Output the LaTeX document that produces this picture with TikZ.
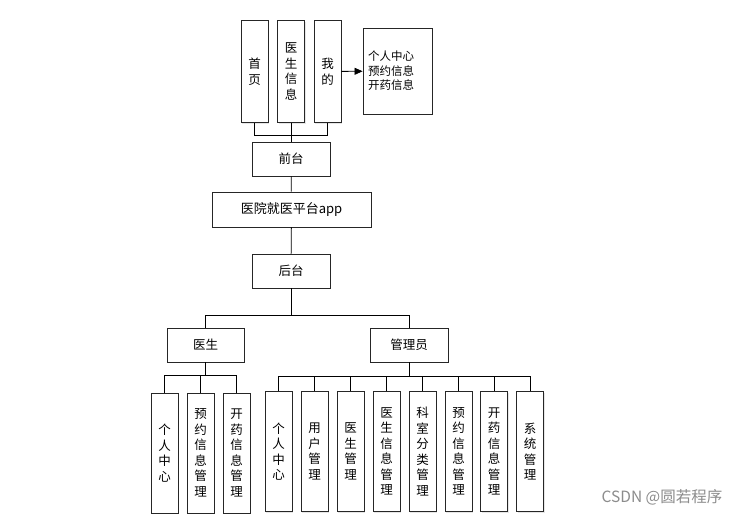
\documentclass[tikz,border=0pt]{standalone}
\usepackage{fontspec}
\newfontfamily\cjk{Noto Sans CJK SC}
\usetikzlibrary{arrows.meta,shadows}
\begin{document}
\begin{tikzpicture}[x=1pt,y=-1pt,
  box/.style={draw=black!85,line width=0.9pt,fill=white,inner sep=0pt,align=center,
    font=\cjk\fontsize{12.5}{15.5}\selectfont,
    drop shadow={shadow xshift=1.2pt,shadow yshift=-1.2pt,opacity=0.2}},
  hbox/.style={box,minimum width=78pt,minimum height=34pt},
  vbox/.style={box,minimum width=27pt,minimum height=120pt},
  tbox/.style={box,minimum width=27pt,minimum height=102pt},
  conn/.style={draw=black,line width=0.8pt}]
\useasboundingbox (0,0) rectangle (746,516);
% top row
\node[tbox] (shouye) at (254.5,71.5) {首\\页};
\node[tbox] (ysxx) at (291,71.5) {医\\生\\信\\息};
\node[tbox] (wode) at (327.5,71.5) {我\\的};
\node[box,minimum width=69pt,minimum height=86pt,text width=59pt,inner xsep=5pt,align=left,
  font=\cjk\fontsize{11.5}{14.5}\selectfont] (info) at (397.5,71) {个人中心\\预约信息\\开药信息};
\draw[conn,-{Triangle[length=8pt,width=7pt]}] (wode) -- (info);
\coordinate (topbus) at (291,135);
\draw[conn] (shouye.south) |- (topbus);
\draw[conn] (wode.south) |- (topbus);
% middle
\node[hbox] (qiantai) at (291,159) {前台};
\node[hbox,minimum width=159pt,minimum height=35pt,font=\cjk\fontsize{13}{15}\selectfont] (app) at (291.5,209.5) {医院就医平台app};
\node[hbox] (houtai) at (291,271) {后台};
\draw[conn] (ysxx.south) -- (qiantai.north);
\draw[conn] (qiantai) -- (app);
\draw[conn] (app) -- (houtai);
% roles
\node[hbox,minimum width=77pt] (doc) at (205.5,345) {医生};
\node[hbox] (adm) at (409,345) {管理员};
\coordinate (split) at (291,315);
\draw[conn] (houtai.south) -- (split);
\draw[conn] (split) -| (doc.north);
\draw[conn] (split) -| (adm.north);
% doctor children
\node[vbox] (d1) at (164.5,453) {个\\人\\中\\心};
\node[vbox] (d2) at (200.5,453) {预\\约\\信\\息\\管\\理};
\node[vbox] (d3) at (236.5,453) {开\\药\\信\\息\\管\\理};
\coordinate (docbus) at (205.5,375);
\draw[conn] (doc.south) -- (docbus);
\draw[conn] (docbus) -| (d1.north);
\draw[conn] (docbus) -| (d2.north);
\draw[conn] (docbus) -| (d3.north);
% admin children
\node[vbox] (a1) at (278.5,451.5) {个\\人\\中\\心};
\node[vbox] (a2) at (314.5,451.5) {用\\户\\管\\理};
\node[vbox] (a3) at (350.5,451.5) {医\\生\\管\\理};
\node[vbox] (a4) at (386.5,451.5) {医\\生\\信\\息\\管\\理};
\node[vbox] (a5) at (422.5,451.5) {科\\室\\分\\类\\管\\理};
\node[vbox] (a6) at (458.5,451.5) {预\\约\\信\\息\\管\\理};
\node[vbox] (a7) at (494,451.5) {开\\药\\信\\息\\管\\理};
\node[vbox] (a8) at (530,451.5) {系\\统\\管\\理};
\coordinate (admbus) at (409,376);
\draw[conn] (adm.south) -- (admbus);
\foreach \n in {a1,a2,a3,a4,a5,a6,a7,a8}{\draw[conn] (admbus) -| (\n.north);}
% watermark
\node[font=\cjk\fontsize{15.5}{17}\selectfont,text=black!45,inner sep=0pt] (wm) at (662,497) {CSDN @圆若程序};
\end{tikzpicture}
\end{document}
